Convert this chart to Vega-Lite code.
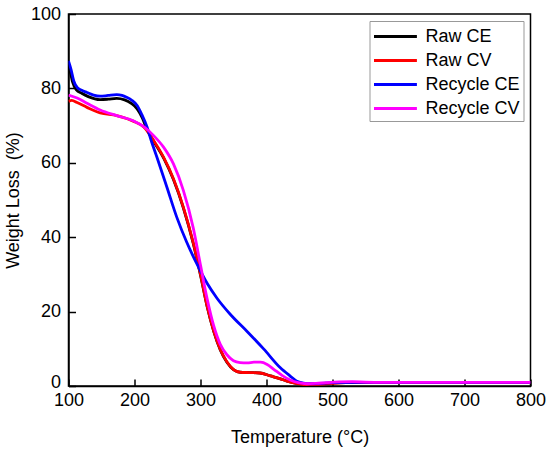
{
  "$schema": "https://vega.github.io/schema/vega-lite/v6.json",
  "autosize": {"type": "none"},
  "width": 462,
  "height": 372,
  "padding": {"left": 68.5, "top": 14, "right": 19.5, "bottom": 67},
  "background": "white",
  "data": {
    "values": [
      {"s": "Raw CE", "t": 100, "w": 85.8},
      {"s": "Raw CE", "t": 103, "w": 84.2},
      {"s": "Raw CE", "t": 106, "w": 81.8},
      {"s": "Raw CE", "t": 112, "w": 79.6},
      {"s": "Raw CE", "t": 120, "w": 78.7},
      {"s": "Raw CE", "t": 130, "w": 77.8},
      {"s": "Raw CE", "t": 148, "w": 77.0},
      {"s": "Raw CE", "t": 160, "w": 77.1},
      {"s": "Raw CE", "t": 173, "w": 77.3},
      {"s": "Raw CE", "t": 185, "w": 76.9},
      {"s": "Raw CE", "t": 195, "w": 76.0},
      {"s": "Raw CE", "t": 204, "w": 74.5},
      {"s": "Raw CE", "t": 212, "w": 72.0},
      {"s": "Raw CE", "t": 219, "w": 68.9},
      {"s": "Raw CE", "t": 229, "w": 65.8},
      {"s": "Raw CE", "t": 244, "w": 61.3},
      {"s": "Raw CE", "t": 259, "w": 55.5},
      {"s": "Raw CE", "t": 274, "w": 47.9},
      {"s": "Raw CE", "t": 289, "w": 38.3},
      {"s": "Raw CE", "t": 300, "w": 29.8},
      {"s": "Raw CE", "t": 310, "w": 21.4},
      {"s": "Raw CE", "t": 320, "w": 14.7},
      {"s": "Raw CE", "t": 330, "w": 9.7},
      {"s": "Raw CE", "t": 340, "w": 6.4},
      {"s": "Raw CE", "t": 350, "w": 4.4},
      {"s": "Raw CE", "t": 360, "w": 3.7},
      {"s": "Raw CE", "t": 375, "w": 3.6},
      {"s": "Raw CE", "t": 390, "w": 3.5},
      {"s": "Raw CE", "t": 406, "w": 2.7},
      {"s": "Raw CE", "t": 420, "w": 2.0},
      {"s": "Raw CE", "t": 431, "w": 1.3},
      {"s": "Raw CE", "t": 445, "w": 0.7},
      {"s": "Raw CE", "t": 456, "w": 0.5},
      {"s": "Raw CE", "t": 470, "w": 0.5},
      {"s": "Raw CE", "t": 490, "w": 0.7},
      {"s": "Raw CE", "t": 520, "w": 0.9},
      {"s": "Raw CE", "t": 600, "w": 1.0},
      {"s": "Raw CE", "t": 800, "w": 1.0},

      {"s": "Raw CV", "t": 100, "w": 76.5},
      {"s": "Raw CV", "t": 105, "w": 76.8},
      {"s": "Raw CV", "t": 113, "w": 76.2},
      {"s": "Raw CV", "t": 128, "w": 74.9},
      {"s": "Raw CV", "t": 148, "w": 73.4},
      {"s": "Raw CV", "t": 173, "w": 72.7},
      {"s": "Raw CV", "t": 198, "w": 71.2},
      {"s": "Raw CV", "t": 214, "w": 69.6},
      {"s": "Raw CV", "t": 229, "w": 66.0},
      {"s": "Raw CV", "t": 244, "w": 61.5},
      {"s": "Raw CV", "t": 259, "w": 55.7},
      {"s": "Raw CV", "t": 274, "w": 48.1},
      {"s": "Raw CV", "t": 289, "w": 38.5},
      {"s": "Raw CV", "t": 300, "w": 30.0},
      {"s": "Raw CV", "t": 310, "w": 21.5},
      {"s": "Raw CV", "t": 320, "w": 14.8},
      {"s": "Raw CV", "t": 330, "w": 9.8},
      {"s": "Raw CV", "t": 340, "w": 6.5},
      {"s": "Raw CV", "t": 350, "w": 4.4},
      {"s": "Raw CV", "t": 360, "w": 3.7},
      {"s": "Raw CV", "t": 375, "w": 3.6},
      {"s": "Raw CV", "t": 390, "w": 3.5},
      {"s": "Raw CV", "t": 406, "w": 2.7},
      {"s": "Raw CV", "t": 420, "w": 2.0},
      {"s": "Raw CV", "t": 431, "w": 1.3},
      {"s": "Raw CV", "t": 445, "w": 0.7},
      {"s": "Raw CV", "t": 456, "w": 0.4},
      {"s": "Raw CV", "t": 470, "w": 0.4},
      {"s": "Raw CV", "t": 490, "w": 0.6},
      {"s": "Raw CV", "t": 520, "w": 0.9},
      {"s": "Raw CV", "t": 600, "w": 1.0},
      {"s": "Raw CV", "t": 800, "w": 1.0},

      {"s": "Recycle CE", "t": 100, "w": 87.4},
      {"s": "Recycle CE", "t": 104, "w": 85.0},
      {"s": "Recycle CE", "t": 108, "w": 82.0},
      {"s": "Recycle CE", "t": 113, "w": 80.3},
      {"s": "Recycle CE", "t": 120, "w": 79.5},
      {"s": "Recycle CE", "t": 128, "w": 78.9},
      {"s": "Recycle CE", "t": 138, "w": 78.2},
      {"s": "Recycle CE", "t": 148, "w": 77.9},
      {"s": "Recycle CE", "t": 160, "w": 78.1},
      {"s": "Recycle CE", "t": 173, "w": 78.3},
      {"s": "Recycle CE", "t": 181, "w": 78.1},
      {"s": "Recycle CE", "t": 188, "w": 77.6},
      {"s": "Recycle CE", "t": 196, "w": 76.8},
      {"s": "Recycle CE", "t": 204, "w": 75.4},
      {"s": "Recycle CE", "t": 211, "w": 73.0},
      {"s": "Recycle CE", "t": 219, "w": 69.6},
      {"s": "Recycle CE", "t": 226, "w": 65.6},
      {"s": "Recycle CE", "t": 234, "w": 61.5},
      {"s": "Recycle CE", "t": 249, "w": 53.5},
      {"s": "Recycle CE", "t": 264, "w": 45.4},
      {"s": "Recycle CE", "t": 279, "w": 38.7},
      {"s": "Recycle CE", "t": 294, "w": 33.0},
      {"s": "Recycle CE", "t": 310, "w": 27.6},
      {"s": "Recycle CE", "t": 325, "w": 23.6},
      {"s": "Recycle CE", "t": 345, "w": 19.3},
      {"s": "Recycle CE", "t": 371, "w": 14.6},
      {"s": "Recycle CE", "t": 396, "w": 9.9},
      {"s": "Recycle CE", "t": 421, "w": 4.9},
      {"s": "Recycle CE", "t": 435, "w": 2.8},
      {"s": "Recycle CE", "t": 446, "w": 1.3},
      {"s": "Recycle CE", "t": 456, "w": 0.8},
      {"s": "Recycle CE", "t": 466, "w": 0.6},
      {"s": "Recycle CE", "t": 480, "w": 0.7},
      {"s": "Recycle CE", "t": 500, "w": 0.9},
      {"s": "Recycle CE", "t": 550, "w": 1.0},
      {"s": "Recycle CE", "t": 800, "w": 1.0},

      {"s": "Recycle CV", "t": 100, "w": 78.2},
      {"s": "Recycle CV", "t": 113, "w": 77.4},
      {"s": "Recycle CV", "t": 128, "w": 76.0},
      {"s": "Recycle CV", "t": 148, "w": 74.2},
      {"s": "Recycle CV", "t": 173, "w": 72.7},
      {"s": "Recycle CV", "t": 198, "w": 71.3},
      {"s": "Recycle CV", "t": 214, "w": 69.7},
      {"s": "Recycle CV", "t": 229, "w": 67.3},
      {"s": "Recycle CV", "t": 244, "w": 64.2},
      {"s": "Recycle CV", "t": 259, "w": 59.7},
      {"s": "Recycle CV", "t": 274, "w": 52.6},
      {"s": "Recycle CV", "t": 289, "w": 42.5},
      {"s": "Recycle CV", "t": 300, "w": 32.5},
      {"s": "Recycle CV", "t": 310, "w": 23.5},
      {"s": "Recycle CV", "t": 320, "w": 16.2},
      {"s": "Recycle CV", "t": 330, "w": 11.2},
      {"s": "Recycle CV", "t": 340, "w": 8.4},
      {"s": "Recycle CV", "t": 350, "w": 6.8},
      {"s": "Recycle CV", "t": 360, "w": 6.3},
      {"s": "Recycle CV", "t": 371, "w": 6.2},
      {"s": "Recycle CV", "t": 381, "w": 6.4},
      {"s": "Recycle CV", "t": 391, "w": 6.4},
      {"s": "Recycle CV", "t": 401, "w": 5.8},
      {"s": "Recycle CV", "t": 411, "w": 4.5},
      {"s": "Recycle CV", "t": 424, "w": 2.8},
      {"s": "Recycle CV", "t": 436, "w": 1.6},
      {"s": "Recycle CV", "t": 448, "w": 0.9},
      {"s": "Recycle CV", "t": 461, "w": 0.6},
      {"s": "Recycle CV", "t": 475, "w": 0.7},
      {"s": "Recycle CV", "t": 490, "w": 0.9},
      {"s": "Recycle CV", "t": 510, "w": 1.1},
      {"s": "Recycle CV", "t": 530, "w": 1.15},
      {"s": "Recycle CV", "t": 550, "w": 1.05},
      {"s": "Recycle CV", "t": 575, "w": 1.0},
      {"s": "Recycle CV", "t": 800, "w": 1.0}
    ]
  },
  "mark": {"type": "line", "interpolate": "monotone", "strokeWidth": 2.8, "clip": true},
  "encoding": {
    "x": {
      "field": "t",
      "type": "quantitative",
      "title": "Temperature (°C)",
      "scale": {"domain": [100, 800], "nice": false, "zero": false},
      "axis": {
        "values": [100, 200, 300, 400, 500, 600, 700, 800],
        "titleY": 42,
        "labelPadding": 12
      }
    },
    "y": {
      "field": "w",
      "type": "quantitative",
      "title": "Weight Loss\u00a0\u00a0(%)",
      "scale": {"domain": [0, 100], "nice": false},
      "axis": {
        "values": [0, 20, 40, 60, 80, 100],
        "titleX": -55,
        "titleBaseline": "middle",
        "labelPadding": 15,
        "labelOffset": {"condition": {"test": "datum.value == 0", "value": -4}, "value": 0}
      }
    },
    "color": {
      "field": "s",
      "type": "nominal",
      "sort": ["Raw CE", "Raw CV", "Recycle CE", "Recycle CV"],
      "scale": {
        "domain": ["Raw CE", "Raw CV", "Recycle CE", "Recycle CV"],
        "range": ["#000000", "#ff0000", "#0000ff", "#ff00ff"]
      },
      "legend": {
        "title": null,
        "orient": "top-right",
        "offset": 7,
        "padding": 3,
        "strokeColor": "#999999",
        "fillColor": "white",
        "symbolType": "M-1,0H2.9",
        "symbolSize": 484,
        "symbolStrokeWidth": 3,
        "labelFontSize": 18,
        "labelOffset": 28,
        "rowPadding": 2,
        "labelColor": "black"
      }
    }
  },
  "config": {
    "font": "Liberation Sans",
    "view": {"stroke": "black", "strokeWidth": 1.5},
    "axis": {
      "grid": false,
      "domainColor": "black",
      "domainWidth": 1.5,
      "tickColor": "black",
      "tickWidth": 1.5,
      "tickSize": -7,
      "labelFontSize": 18,
      "labelColor": "black",
      "labelFlush": false,
      "labelOverlap": false,
      "titleFontSize": 18,
      "titleFontWeight": "normal",
      "titleColor": "black"
    }
  }
}
